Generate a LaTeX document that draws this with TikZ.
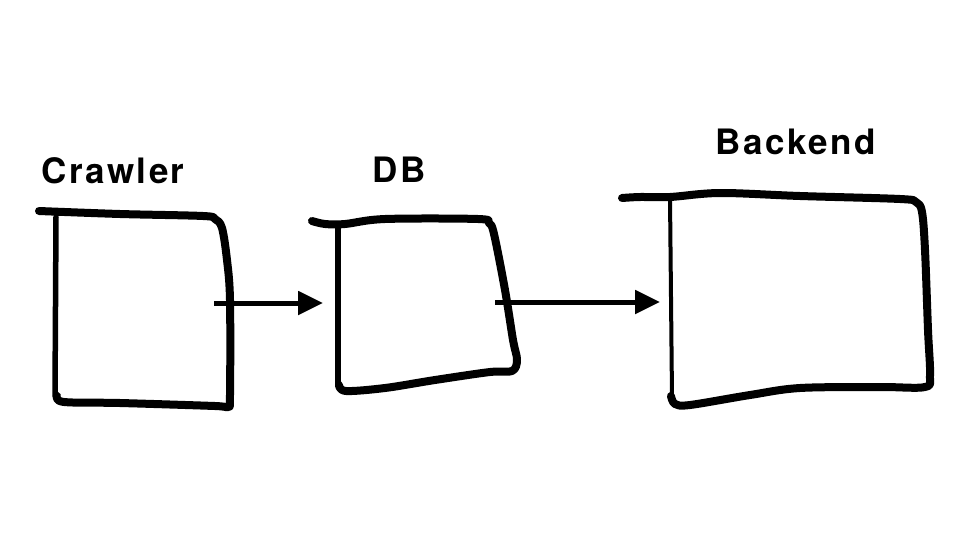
\documentclass[tikz,border=0pt]{standalone}
\usepackage{fontspec}
\setmainfont{TeX Gyre Heros}[LetterSpace=7]
\usetikzlibrary{arrows.meta}
\tikzset{
  handbox/.style={line width=8pt, line cap=round, line join=round},
  handedge/.style={line width=5.5pt, line cap=round, line join=round},
  flow/.style={line width=5pt, -{Triangle[length=25pt,width=23pt]}},
  lbl/.style={anchor=base, inner sep=0pt, font=\fontsize{35}{40}\selectfont\bfseries}
}
\begin{document}
\begin{tikzpicture}[x=1pt,y=-1pt]
\useasboundingbox (0,0) rectangle (974,557);
% labels
\node[lbl] (lcrawler) at (113,183) {Crawler};
\node[lbl] (ldb) at (399,182) {DB};
\node[lbl] (lbackend) at (796,154) {Backend};
% Crawler box
\draw[handbox] plot[smooth, tension=0.55] coordinates {(39,211) (120,214) (203,216) (215,219) (222,228) (227,260) (230,300) (230,395) (228,407) (215,406) (120,403) (64,402) (57,396)};
\draw[handedge] (56,217) -- (55,396);
% DB box
\draw[handbox] plot[smooth, tension=0.55] coordinates {(312,221) (325,224) (345,224) (385,219) (478,219) (489,223) (494,234) (505,290) (513,340) (517,360) (512,371) (490,372) (435,380) (385,388) (346,391) (339,385)};
\draw[handedge] (338,225) -- (338,385);
% Backend box
\draw[handbox] plot[smooth, tension=0.55] coordinates {(622,198) (640,197) (670,197) (720,193) (800,196) (900,199) (916,202) (922,212) (925,250) (928,330) (930,375) (925,387) (880,387) (800,388) (750,395) (690,405) (675,404) (671,396)};
\draw[handedge, line width=4pt] (670,198) -- (672,397);
% connectors
\coordinate (crawlerout) at (214,303);
\coordinate (dbin) at (323,303);
\coordinate (dbout) at (495,302);
\coordinate (backendin) at (660,302);
\draw[flow] (crawlerout) -- (dbin);
\draw[flow] (dbout) -- (backendin);
\end{tikzpicture}
\end{document}
